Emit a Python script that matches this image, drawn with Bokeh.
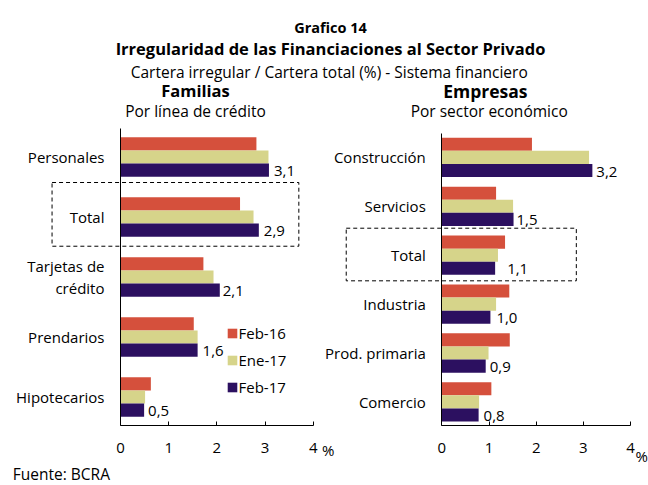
from bokeh.plotting import figure
from bokeh.models import (Range1d, FixedTicker, BoxAnnotation, Label, Legend, LegendItem,
                          ColumnDataSource, LinearAxis)
from bokeh.transform import dodge
from bokeh.embed import file_html
from bokeh.resources import INLINE
from bokeh.core.properties import value

# ---------------- data ----------------
series = ["Feb-16", "Ene-17", "Feb-17"]
colors = ["#D5503C", "#D6D48A", "#2C1060"]

fam_cats = ["Personales", "Total", "Tarjetas de\ncrédito", "Prendarios", "Hipotecarios"]
fam_feb16 = [2.82, 2.48, 1.72, 1.52, 0.63]
fam_ene17 = [3.07, 2.76, 1.93, 1.60, 0.51]
fam_feb17 = [3.08, 2.87, 2.06, 1.60, 0.49]

emp_cats = ["Construcción", "Servicios", "Total", "Industria", "Prod. primaria", "Comercio"]
emp_feb16 = [1.91, 1.15, 1.34, 1.43, 1.44, 1.05]
emp_ene17 = [3.12, 1.51, 1.19, 1.15, 0.99, 0.79]
emp_feb17 = [3.19, 1.52, 1.13, 1.03, 0.93, 0.78]

x_ticks = [0, 1, 2, 3, 4]

# ---------------- style / layout ----------------
FONT = "Open Sans"
W, H = 648, 485
# pixel geometry of the two panels (px of value 0, px per unit, px of first group, px per group)
L_X0, L_SX, L_Y0, L_SY, L_TOP, L_BOT = 120.0, 48.2, 156.5, 60.0, 128.0, 425.0
R_X0, R_SX, R_Y0, R_SY, R_TOP, R_BOT = 441.3, 47.2, 156.9, 48.9, 133.0, 425.0
fam_nudge = [5, 5, 3, 5, 4]
emp_nudge = [4, 3, 12, 6, 4, 5]


def fmt(v):
    return f"{v:.1f}".replace(".", ",")


p = figure(width=W, height=H, output_backend="svg", toolbar_location=None,
           x_range=Range1d(-L_X0 / L_SX, (W - L_X0) / L_SX),
           y_range=Range1d((H - L_Y0) / L_SY, -L_Y0 / L_SY),
           x_axis_type=None, y_axis_type=None, min_border=0)
p.extra_x_ranges = {"xr": Range1d(-R_X0 / R_SX, (W - R_X0) / R_SX), "px": Range1d(0, W)}
p.extra_y_ranges = {"yr": Range1d((H - R_Y0) / R_SY, -R_Y0 / R_SY), "py": Range1d(H, 0)}
p.outline_line_color = None
p.grid.visible = False


def panel(cats, a, b, c, nudge, xr, yr, sy, top_px, bot_px, y0_px, bar_px):
    bar_h = bar_px / sy
    idx = list(range(len(cats)))
    src = ColumnDataSource(dict(idx=idx, s0=a, s1=b, s2=c,
                                lab=[fmt(v) for v in c], nudge=nudge))
    rends = []
    for k, key in enumerate(["s0", "s1", "s2"]):
        r = p.hbar(y=dodge("idx", (k - 1) * bar_h), left=0, right=key, height=bar_h,
                   source=src, fill_color=colors[k], line_color=None,
                   x_range_name=xr, y_range_name=yr)
        rends.append(r)
    p.text(x="s2", y=dodge("idx", bar_h), text="lab", x_offset="nudge", y_offset=1,
           source=src, text_baseline="middle", text_align="left",
           text_font=value(FONT), text_font_size="15px", text_color="black",
           x_range_name=xr, y_range_name=yr)

    y_top = (top_px - y0_px) / sy
    y_bot = (bot_px - y0_px) / sy

    xa = LinearAxis(x_range_name=xr, y_range_name=yr, fixed_location=y_bot,
                    bounds=(0, 4), ticker=FixedTicker(ticks=x_ticks))
    xa.major_tick_in = 4
    xa.major_tick_out = 0
    xa.minor_tick_line_color = None
    xa.axis_line_color = "black"
    xa.major_tick_line_color = "black"
    xa.major_label_text_font = FONT
    xa.major_label_text_font_size = "15px"
    xa.major_label_text_color = "black"
    xa.major_label_standoff = 17
    p.add_layout(xa, "below")

    ya = LinearAxis(x_range_name=xr, y_range_name=yr, fixed_location=0,
                    bounds=(y_top, y_bot), ticker=FixedTicker(ticks=idx))
    ya.major_label_overrides = {i: cats[i] for i in idx}
    ya.major_tick_line_color = None
    ya.minor_tick_line_color = None
    ya.major_tick_in = 0
    ya.major_tick_out = 0
    ya.axis_line_color = "black"
    ya.major_label_text_font = FONT
    ya.major_label_text_font_size = "15px"
    ya.major_label_text_color = "black"
    ya.major_label_standoff = 16
    ya.major_label_text_line_height = 1.1
    p.add_layout(ya, "left")
    return rends, bar_h


# left panel: Familias
rends, _ = panel(fam_cats, fam_feb16, fam_ene17, fam_feb17, fam_nudge,
                 "default", "default", L_SY, L_TOP, L_BOT, L_Y0, 13.1)
t = fam_cats.index("Total")
p.add_layout(BoxAnnotation(left=-1.42, right=3.70, top=t - 0.575, bottom=t + 0.487,
                           fill_alpha=0, line_color="black", line_alpha=1,
                           line_dash="4 3", line_width=1))

legend = Legend(items=[LegendItem(label=series[k], renderers=[rends[k]]) for k in range(3)],
                location=(225.5, 88.5), padding=0, margin=0,
                border_line_color=None, background_fill_alpha=0,
                glyph_width=12, glyph_height=12, label_standoff=1,
                label_height=20, spacing=7,
                label_text_font=FONT, label_text_font_size="15px",
                label_text_color="black")
p.add_layout(legend)

# right panel: Empresas
panel(emp_cats, emp_feb16, emp_ene17, emp_feb17, emp_nudge,
      "xr", "yr", R_SY, R_TOP, R_BOT, R_Y0, 13.1)
t = emp_cats.index("Total")
p.add_layout(BoxAnnotation(left=-2.025, right=2.85, top=t - 0.552, bottom=t + 0.524,
                           x_range_name="xr", y_range_name="yr",
                           fill_alpha=0, line_color="black", line_alpha=1,
                           line_dash="4 3", line_width=1))

# texts
texts = [
    ("Grafico 14", 330, 26.7, "bold", "14.5px", "center"),
    ("Irregularidad de las Financiaciones al Sector Privado", 330, 48.3, "bold", "16.5px", "center"),
    ("Cartera irregular / Cartera total (%) - Sistema financiero", 328.7, 71.7, "normal", "15.5px", "center"),
    ("Familias", 195, 90, "bold", "16.5px", "center"),
    ("Por línea de crédito", 195, 110, "normal", "15.5px", "center"),
    ("Empresas", 484.8, 90, "bold", "17.5px", "center"),
    ("Por sector económico", 488.7, 110, "normal", "15.5px", "center"),
    ("Fuente: BCRA", 12.3, 473, "normal", "15.5px", "left"),
    ("%", 321.5, 449, "normal", "15px", "left"),
    ("%", 635, 455, "normal", "15px", "left"),
]
for txt, x, y, st, fs, al in texts:
    p.add_layout(Label(x=x, y=y, text=txt, text_align=al, text_baseline="alphabetic",
                       x_range_name="px", y_range_name="py",
                       text_font=FONT, text_font_style=st, text_font_size=fs,
                       text_color="black"))

open("out.html", "w").write(file_html(p, INLINE))
